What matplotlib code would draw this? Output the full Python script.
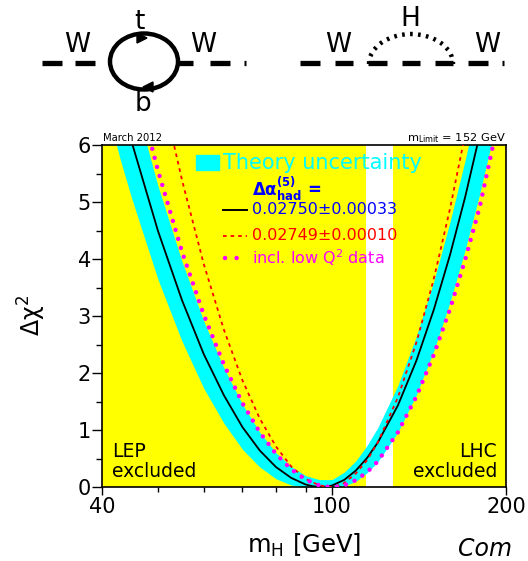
import matplotlib
matplotlib.use("Agg")
import matplotlib.pyplot as plt
from matplotlib.patches import Ellipse, Arc, Rectangle, Polygon
from matplotlib.ticker import FixedLocator, NullFormatter

# --- data ---
# fit with dAlpha_had = 0.02750 +- 0.00033 (black)
m_black = [43, 45, 50, 55, 60, 65, 70, 75, 80, 85, 90, 92.5, 95, 97.5, 100,
           105, 110, 115, 120, 130, 140, 150, 160, 170, 180, 185]
chi2_black = [6.81, 6.06, 4.49, 3.28, 2.33, 1.61, 1.05, 0.64, 0.35, 0.16,
              0.044, 0.015, 0.001, 0.004, 0.026, 0.125, 0.29, 0.51, 0.78,
              1.43, 2.22, 3.11, 4.07, 5.09, 6.17, 6.71]

# theory uncertainty band
m_band = [40, 43, 45, 50, 55, 60, 65, 70, 75, 80, 85, 90, 95, 100, 105, 110,
          115, 120, 130, 140, 150, 160, 170, 180, 190, 200]
band_lo = [6.94, 5.75, 5.07, 3.64, 2.56, 1.73, 1.12, 0.66, 0.35, 0.145, 0.034,
           0.0, 0.0, 0.0, 0.019, 0.10, 0.25, 0.44, 0.96, 1.62, 2.39, 3.24,
           4.16, 5.13, 6.15, 7.19]
band_hi = [9.15, 7.78, 6.98, 5.28, 3.96, 2.91, 2.09, 1.45, 0.96, 0.6, 0.36,
           0.2, 0.13, 0.13, 0.26, 0.46, 0.73, 1.04, 1.78, 2.65, 3.61, 4.65,
           5.74, 6.87, 8.04, 9.23]

# dAlpha_had = 0.02749 +- 0.00010 (red)
m_red = [50, 52, 55, 60, 65, 70, 75, 80, 85, 90, 95, 99, 102, 105, 110, 115,
         120, 130, 140, 150, 160, 170]
chi2_red = [7.28, 6.47, 5.39, 3.91, 2.76, 1.87, 1.2, 0.71, 0.36, 0.14, 0.03,
            0.0, 0.019, 0.07, 0.24, 0.47, 0.78, 1.57, 2.54, 3.65, 4.88, 6.19]

# incl. low Q^2 data (magenta)
m_mag = [45, 48, 50, 55, 60, 65, 70, 75, 80, 85, 90, 95, 97.5, 100, 102.5,
         105, 110, 115, 120, 130, 140, 150, 160, 170, 180, 190, 195]
chi2_mag = [7.37, 6.23, 5.55, 4.13, 3.02, 2.15, 1.47, 0.96, 0.58, 0.31, 0.13,
            0.03, 0.007, 0.0, 0.006, 0.03, 0.12, 0.26, 0.45, 0.96, 1.59, 2.32,
            3.12, 3.99, 4.9, 6.0, 6.4]

lep_limit = 114.4
lhc_limit = 127.5
x_major = [40, 100, 200]
x_minor = [50, 60, 70, 80, 90]

YELLOW = "#ffff00"
CYAN = "#00ffff"
MAGENTA = "#ff00ff"
RED = "#ff0000"
BLUE = "#0000ff"

plt.rcParams["font.family"] = ["DejaVu Sans"]
plt.rcParams["mathtext.fontset"] = "dejavusans"

fig = plt.figure(figsize=(5.28, 5.61), dpi=100)

# overlay in pixel coordinates for diagrams and outside labels
ov = fig.add_axes([0, 0, 1, 1])
ov.set_xlim(0, 528)
ov.set_ylim(561, 0)
ov.axis("off")

# left diagram: W - (t,b loop) - W
for a, b in [(42, 62), (75, 95), (178, 193), (210, 230), (244, 246)]:
    ov.plot([a, b], [63, 63], color="black", lw=3.8, solid_capstyle="butt")
ov.add_patch(Ellipse((144, 61.5), 68, 56, fill=False, lw=3.2, ec="black"))
ov.add_patch(Polygon([[137, 33], [137, 43], [147, 38]], closed=True, color="black"))
ov.add_patch(Polygon([[153, 82], [153, 92], [143, 87]], closed=True, color="black"))
ov.text(77, 45, "W", fontsize=19, ha="center", va="center")
ov.text(203, 45, "W", fontsize=19, ha="center", va="center")
ov.text(139, 22, "t", fontsize=19, ha="center", va="center")
ov.text(143, 104, "b", fontsize=19, ha="center", va="center")

# right diagram: W - (H loop) - W
for a, b in [(300, 320), (335, 353), (368, 387), (402, 420), (435, 453),
             (468, 488), (502, 504)]:
    ov.plot([a, b], [63, 63], color="black", lw=3.8, solid_capstyle="butt")
ov.add_patch(Arc((411, 64), 84, 60, theta1=180, theta2=360, lw=3.2,
                 ls=(0, (0.6, 1.2)), color="black"))
ov.text(338, 45, "W", fontsize=19, ha="center", va="center")
ov.text(487, 45, "W", fontsize=19, ha="center", va="center")
ov.text(410, 19, "H", fontsize=19, ha="center", va="center")

ov.text(103, 141, "March 2012", fontsize=7.2, ha="left", va="baseline")
ov.text(506, 141, r"$\mathregular{m_{Limit}}$ = 152 GeV", fontsize=8.2,
        ha="right", va="baseline")
ov.text(32, 316, r"$\mathregular{\Delta\chi^2}$", fontsize=17, rotation=90,
        ha="center", va="center")
ov.text(304, 545, r"$\mathregular{m_H}$ [GeV]", fontsize=17.5,
        ha="center", va="center")
ov.text(458, 549, "Com", fontsize=17, style="italic", ha="left", va="center")

# main chart
ax = fig.add_axes([102 / 528, 74 / 561, 404 / 528, 342 / 561])
ax.set_zorder(2)
ax.set_xscale("log")
ax.set_xlim(40, 200)
ax.set_ylim(0, 6)

ax.axvspan(40, lep_limit, color=YELLOW, lw=0, zorder=0)
ax.axvspan(lhc_limit, 200, color=YELLOW, lw=0, zorder=0)
ax.fill_between(m_band, band_lo, band_hi, color=CYAN, lw=0, zorder=1)
ax.plot(m_black, chi2_black, color="black", lw=1.3, zorder=3)
ax.plot(m_red, chi2_red, color=RED, lw=1.3, ls=(0, (2, 2.2)), zorder=3)
ax.plot(m_mag, chi2_mag, color=MAGENTA, lw=3.2, ls=(0, (0.01, 2.1)),
        dash_capstyle="round", zorder=3)

ax.xaxis.set_major_locator(FixedLocator(x_major))
ax.xaxis.set_minor_locator(FixedLocator(x_minor))
ax.xaxis.set_minor_formatter(NullFormatter())
ax.set_xticklabels([str(v) for v in x_major])
ax.set_yticks(range(0, 7))
ax.set_yticks([i + 0.5 for i in range(6)], minor=True)
ax.tick_params(axis="y", which="major", direction="out", length=7, width=1,
               labelsize=15, pad=1)
ax.tick_params(axis="y", which="minor", direction="out", length=4, width=1)
ax.tick_params(axis="x", which="major", direction="out", length=6, width=1,
               labelsize=15, pad=1)
ax.tick_params(axis="x", which="minor", direction="out", length=3.5, width=1)
for s in ax.spines.values():
    s.set_linewidth(1.2)

# legend drawn inside the axes
tA = ax.transAxes
ax.add_patch(Rectangle((0.2327, 0.927), 0.057, 0.044, color=CYAN,
                       transform=tA, zorder=5))
ax.text(0.2995, 0.948, "Theory uncertainty", color=CYAN, fontsize=15,
        transform=tA, va="center", zorder=5)
ax.text(0.371, 0.872, r"$\mathregular{\Delta\alpha^{(5)}_{had}}$ =",
        color=BLUE, fontsize=12, fontweight="bold", transform=tA,
        va="center", zorder=5)
ax.plot([0.299, 0.359], [0.81, 0.81], color="black", lw=1.4, transform=tA,
        zorder=5)
ax.text(0.371, 0.81, "0.02750\u00b10.00033", color=BLUE, fontsize=11.5,
        transform=tA, va="center", zorder=5)
ax.plot([0.299, 0.359], [0.734, 0.734], color=RED, lw=1.3,
        ls=(0, (2, 2.2)), transform=tA, zorder=5)
ax.text(0.371, 0.734, "0.02749\u00b10.00010", color=RED, fontsize=11.5,
        transform=tA, va="center", zorder=5)
ax.plot([0.305, 0.359], [0.67, 0.67], color=MAGENTA, lw=3.2,
        ls=(0, (0.01, 2.6)), dash_capstyle="round", transform=tA, zorder=5)
ax.text(0.371, 0.67, r"incl. low Q$\mathregular{^2}$ data", color=MAGENTA,
        fontsize=11.5, transform=tA, va="center", zorder=5)

ax.text(0.025, 0.018, "LEP\nexcluded", fontsize=13.5, transform=tA,
        ha="left", va="bottom", linespacing=1.05, zorder=5)
ax.text(0.978, 0.018, "LHC\nexcluded", fontsize=13.5, transform=tA,
        ha="right", va="bottom", multialignment="right", linespacing=1.05,
        zorder=5)

fig.savefig("out.png", dpi=100)
